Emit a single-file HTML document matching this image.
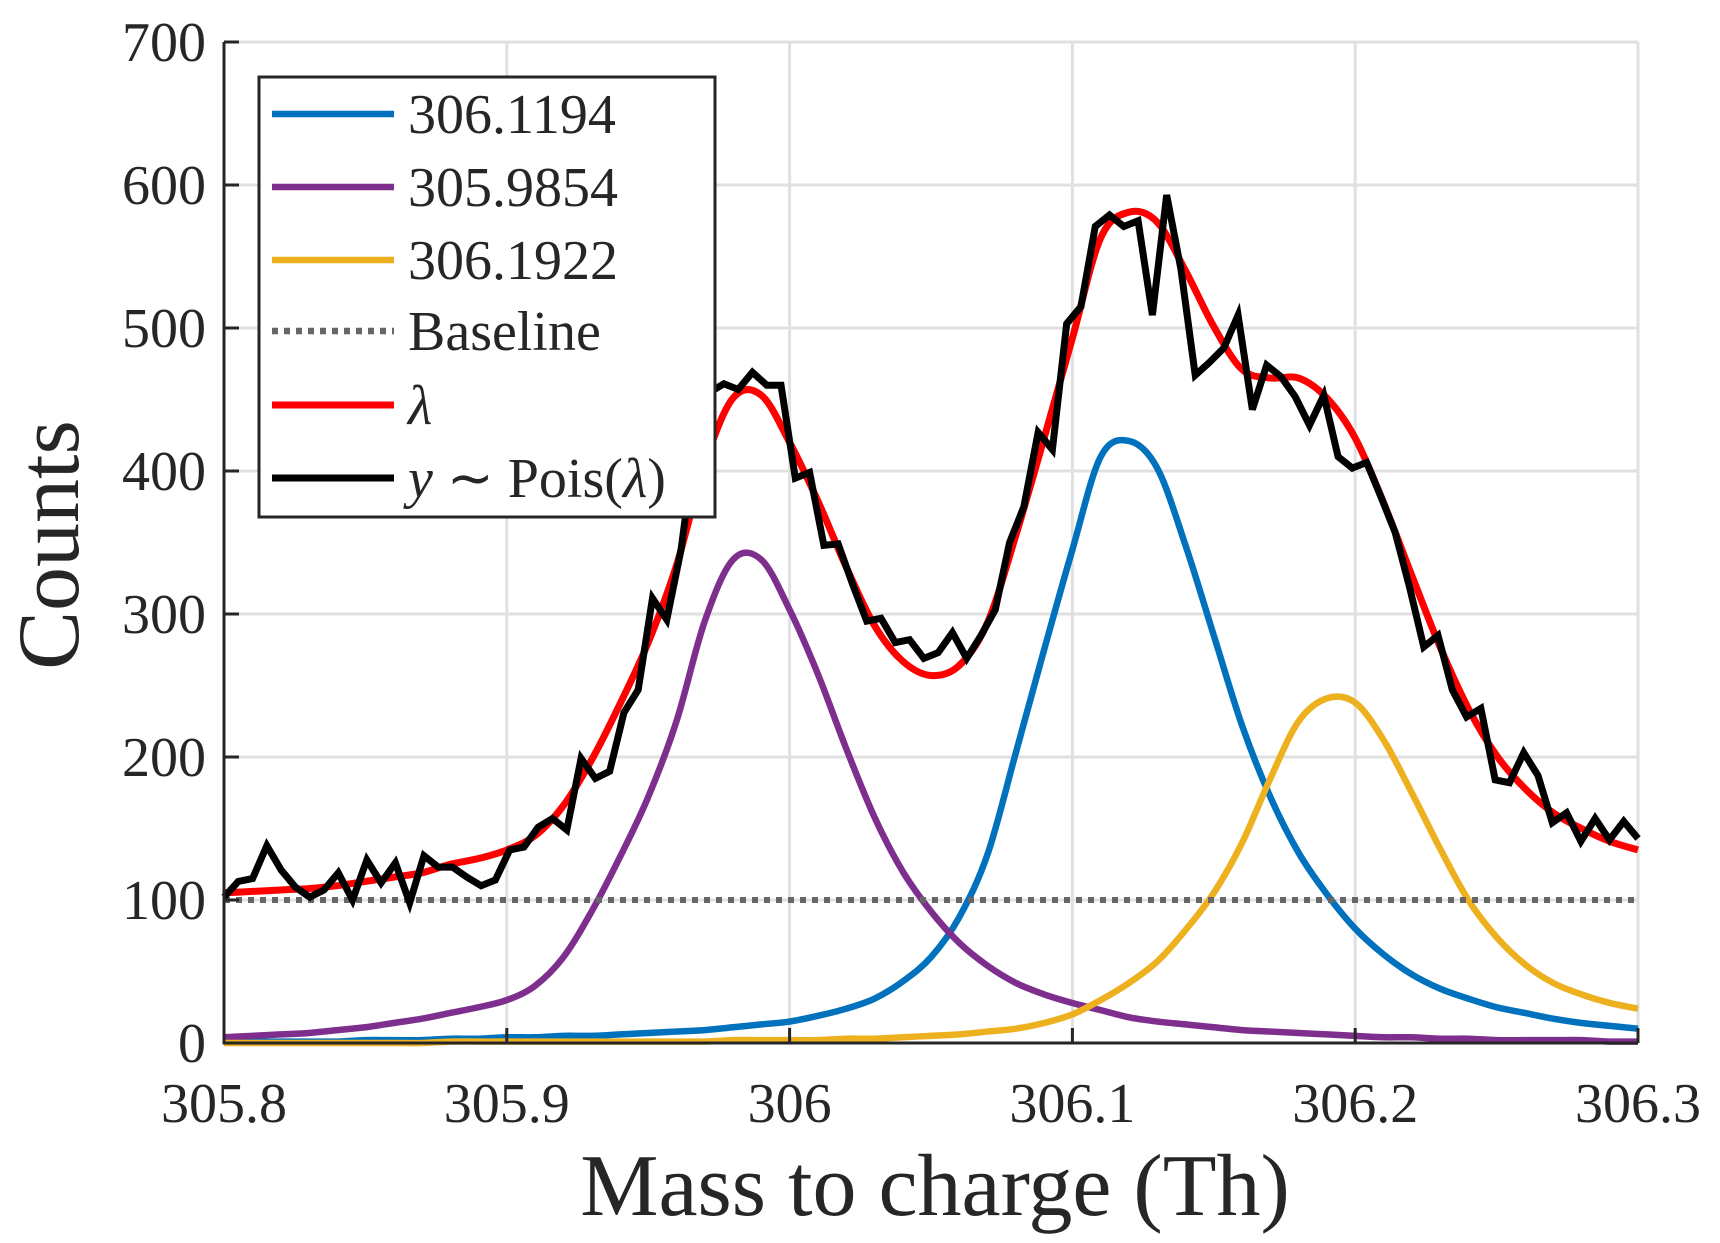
<!DOCTYPE html>
<html><head><meta charset="utf-8">
<style>
html,body{margin:0;padding:0;background:#fff;}
svg{display:block;}
text{font-family:"Liberation Serif",serif;fill:#262626;}
</style></head>
<body>
<svg id="chart" width="1720" height="1243" viewBox="0 0 1720 1243" xmlns="http://www.w3.org/2000/svg">
<g id="grid"></g>
<g id="series"></g>
<g id="axes"></g>
<text x="0" y="0" font-size="88" text-anchor="middle" transform="translate(78,545) rotate(-90)">Counts</text>
<text x="935" y="1215" font-size="88" text-anchor="middle">Mass to charge (Th)</text>
<g id="legend"></g>
</svg>
<script>
const xTicks = [305.8, 305.9, 306.0, 306.1, 306.2, 306.3];
const xTickLabels = ["305.8", "305.9", "306", "306.1", "306.2", "306.3"];
const yTicks = [0, 100, 200, 300, 400, 500, 600, 700];
const yTickLabels = ["0", "100", "200", "300", "400", "500", "600", "700"];
const compMz = [305.80,305.81,305.82,305.83,305.84,305.85,305.86,305.87,305.88,305.89,305.90,305.91,305.92,305.93,305.94,305.95,305.96,305.97,305.98,305.99,306.00,306.01,306.02,306.03,306.04,306.05,306.06,306.07,306.08,306.09,306.10,306.11,306.12,306.13,306.14,306.15,306.16,306.17,306.18,306.19,306.20,306.21,306.22,306.23,306.24,306.25,306.26,306.27,306.28,306.29,306.30];
const purpleVals = [4,5,6,7,9,11,14,17,21,25,30,40,60,92,130,172,225,295,338,338,303,258,206,158,120,92,70,54,42,34,28,23,18,15,13,11,9,8,7,6,5,4,4,3,3,2,2,2,2,1,1];
const blueVals = [1,1,1,1,1,2,2,2,3,3,4,4,5,5,6,7,8,9,11,13,15,19,24,31,43,60,88,132,203,275,345,410,421,402,348,285,222,172,133,104,80,62,48,38,31,25,21,17,14,12,10];
const yellowVals = [0,0,0,0,0,0,0,0,1,1,1,1,1,1,1,1,1,1,2,2,2,2,3,3,4,5,6,8,10,14,20,30,42,57,79,105,140,185,225,241,238,212,175,136,100,74,55,42,34,28,24];
const baselineVal = 100;
const mzStart = 305.8, mzEnd = 306.3;
const counts = [102,113,115,138,121,109,102,107,119,100,128,112,126,98,131,123,123,116,110,114,135,137,151,157,149,199,185,190,231,247,
311,296,345,420,455,
461,457,469,460,460,395,399,348,349,321,295,297,280,282,269,273,287,269,285,303,350,375,427,415,503,515,571,579,571,575,509,593,541,467,476,486,509,443,474,466,452,432,453,410,402,406,
382,357,319,277,285,247,228,234,184,182,203,187,154,161,141,157,142,155,143];

const NS = "http://www.w3.org/2000/svg";
const X0 = 224, X1 = 1638, Y0 = 1043, Y1 = 42;
function xs(m){ return X0 + (m - 305.8) / 0.5 * (X1 - X0); }
function ys(v){ return Y0 - v / 700 * (Y0 - Y1); }
function mk(tag, attrs, parent){ const e = document.createElementNS(NS, tag); for (const k in attrs) e.setAttribute(k, attrs[k]); parent.appendChild(e); return e; }
function smoothPath(pts){
  let d = "M" + pts[0][0].toFixed(2) + "," + pts[0][1].toFixed(2);
  for (let i = 0; i < pts.length - 1; i++){
    const p0 = pts[Math.max(0,i-1)], p1 = pts[i], p2 = pts[i+1], p3 = pts[Math.min(pts.length-1,i+2)];
    const c1x = p1[0] + (p2[0]-p0[0])/6, c1y = p1[1] + (p2[1]-p0[1])/6;
    const c2x = p2[0] - (p3[0]-p1[0])/6, c2y = p2[1] - (p3[1]-p1[1])/6;
    d += " C" + c1x.toFixed(2)+","+c1y.toFixed(2)+" "+c2x.toFixed(2)+","+c2y.toFixed(2)+" "+p2[0].toFixed(2)+","+p2[1].toFixed(2);
  }
  return d;
}
const grid = document.getElementById('grid');
const axes = document.getElementById('axes');
const series = document.getElementById('series');
const legend = document.getElementById('legend');

yTicks.forEach((t, i) => {
  const g = mk('line', {x1:X0, x2:X1, y1:ys(t), y2:ys(t), stroke:'#e0e0e0', 'stroke-width':3}, grid);
  
  
  const tk = mk('line', {x1:X0, x2:X0+15, y1:ys(t), y2:ys(t), stroke:'#262626', 'stroke-width':3}, axes);
  
  
  const lb = mk('text', {x:206, y:ys(t)+19, 'font-size':56, 'text-anchor':'end'}, axes);
  lb.textContent = yTickLabels[i];
  
  
});
xTicks.forEach((t, i) => {
  const g = mk('line', {x1:xs(t), x2:xs(t), y1:Y0, y2:Y1, stroke:'#e0e0e0', 'stroke-width':3}, grid);
  
  
  const tk = mk('line', {x1:xs(t), x2:xs(t), y1:Y0, y2:Y0-15, stroke:'#262626', 'stroke-width':3}, axes);
  
  
  const lb = mk('text', {x:xs(t), y:1122, 'font-size':56, 'text-anchor':'middle'}, axes);
  lb.textContent = xTickLabels[i];
  
  
});
const ax1 = mk('line', {x1:X0, x2:X0, y1:Y1, y2:Y0+1.5, stroke:'#262626', 'stroke-width':3}, axes);


const ax2 = mk('line', {x1:X0-1.5, x2:X1, y1:Y0, y2:Y0, stroke:'#262626', 'stroke-width':3}, axes);



function compPts(vals){ return compMz.map((m,i)=>[xs(m), ys(vals[i])]); }
const pBlue = mk('path', {d:smoothPath(compPts(blueVals)), fill:'none', stroke:'#0072BD', 'stroke-width':6.5, 'stroke-linejoin':'round'}, series);


const pPurple = mk('path', {d:smoothPath(compPts(purpleVals)), fill:'none', stroke:'#7E2F8E', 'stroke-width':6.5, 'stroke-linejoin':'round'}, series);


const pYellow = mk('path', {d:smoothPath(compPts(yellowVals)), fill:'none', stroke:'#EDB120', 'stroke-width':6.5, 'stroke-linejoin':'round'}, series);


const pBase = mk('line', {x1:xs(mzStart), x2:xs(mzEnd), y1:ys(baselineVal), y2:ys(baselineVal), stroke:'#666', 'stroke-width':6, 'stroke-dasharray':'6 6'}, series);


const lamPts = compMz.map((m,i)=>[xs(m), ys(baselineVal + purpleVals[i] + blueVals[i] + yellowVals[i])]);
const pLam = mk('path', {d:smoothPath(lamPts), fill:'none', stroke:'#FF0000', 'stroke-width':7, 'stroke-linejoin':'round'}, series);


const n = counts.length;
const cPts = counts.map((v,i)=>xs(mzStart + i*(mzEnd-mzStart)/(n-1)).toFixed(2)+","+ys(v).toFixed(2)).join(" ");
const pCounts = mk('polyline', {points:cPts, fill:'none', stroke:'#000', 'stroke-width':7, 'stroke-linejoin':'miter'}, series);



const box = mk('rect', {x:259, y:77, width:456, height:440, fill:'#fff', stroke:'#262626', 'stroke-width':3}, legend);


const legLabels = ["306.1194", "305.9854", "306.1922", "Baseline", "λ", "y ~ Pois(λ)"];
const legColors = ["#0072BD", "#7E2F8E", "#EDB120", "#666", "#FF0000", "#000"];
const legY = [114, 187, 260, 331, 405, 478];
legLabels.forEach((lab, i) => {
  const ln = mk('line', {x1:272, x2:394, y1:legY[i], y2:legY[i], stroke:legColors[i], 'stroke-width':(i>=4?7:6.5)}, legend);
  if (i === 3) ln.setAttribute('stroke-dasharray', '6 6');
  
  
  const tx = mk('text', {x:408, y:legY[i]+19, 'font-size':56}, legend);
  if (i === 5) {
    tx.innerHTML = '<tspan font-style="italic">y</tspan> ∼ Pois(<tspan font-style="italic">λ</tspan>)';
  } else if (i === 4) {
    tx.innerHTML = '<tspan font-style="italic">λ</tspan>';
  } else {
    tx.textContent = lab;
  }
  
  
});
</script>
</body></html>
